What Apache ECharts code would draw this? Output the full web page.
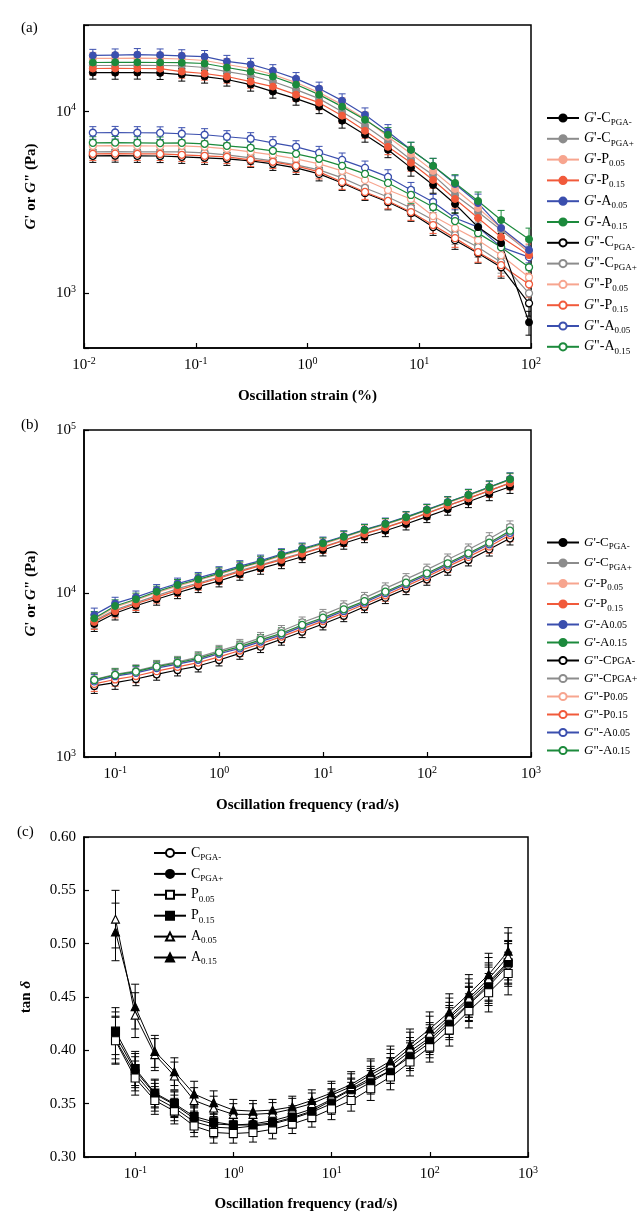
<!DOCTYPE html>
<html>
<head>
<meta charset="utf-8">
<script src="https://cdn.jsdelivr.net/npm/echarts@6/dist/echarts.min.js"></script>
<style>
  html, body { margin: 0; background: #fff; }
  #main { width: 639px; height: 1214px; }
</style>
</head>
<body>
<div id="main"></div>
<script>
// ---- (a) strain sweep, G' and G'' in Pa ----
const strainA = [0.012, 0.019, 0.030, 0.048, 0.075, 0.12, 0.19, 0.31, 0.49, 0.79, 1.27, 2.04, 3.27, 5.25, 8.43, 13.3, 20.9, 33.6, 54.0, 96.0];
const aGp_Cm  = [16420, 16400, 16420, 16350, 16010, 15610, 15030, 14100, 12900, 11800, 10660, 8920, 7464, 6167, 4906, 3950, 3103, 2315, 1889, 692];
const aGp_Cp  = [17950, 17950, 18000, 17950, 17900, 17500, 16630, 15810, 14650, 13230, 11800, 10000, 8368, 6826, 5432, 4486, 3479, 2802, 2229, 1684];
const aGp_P05 = [19630, 19630, 19700, 19630, 19500, 19130, 18180, 17280, 16010, 14460, 12730, 10930, 9149, 7277, 5862, 4721, 3755, 2948, 2286, 1684];
const aGp_P15 = [17280, 17300, 17280, 17250, 16630, 16220, 15610, 14650, 13740, 12410, 11210, 9504, 7852, 6406, 5229, 4209, 3307, 2597, 2039, 1622];
const aGp_A05 = [20400, 20500, 20600, 20500, 20300, 20100, 18900, 18200, 16800, 15200, 13400, 11500, 9620, 7750, 6170, 5030, 4000, 3140, 2290, 1730];
const aGp_A15 = [18650, 18700, 18700, 18650, 18600, 18410, 17500, 16630, 15610, 14100, 12410, 10660, 9034, 7464, 6167, 5033, 4052, 3224, 2531, 1987];
const aGpp_Cm  = [5715, 5730, 5715, 5700, 5643, 5572, 5501, 5363, 5163, 4906, 4544, 4052, 3568, 3183, 2767, 2315, 1962, 1663, 1392, 881];
const aGpp_Cp  = [6012, 6030, 6012, 6000, 6012, 5937, 5788, 5572, 5363, 5097, 4783, 4318, 3802, 3392, 2948, 2531, 2091, 1795, 1484, 1000];
const aGpp_P05 = [6488, 6500, 6488, 6470, 6488, 6406, 6246, 6012, 5788, 5501, 5163, 4721, 4209, 3707, 3307, 2663, 2286, 1962, 1622, 1226];
const aGpp_P15 = [5862, 5880, 5862, 5850, 5788, 5715, 5643, 5432, 5296, 5033, 4661, 4104, 3614, 3224, 2802, 2375, 2013, 1684, 1428, 1121];
const aGpp_A05 = [7656, 7680, 7656, 7640, 7559, 7464, 7277, 7094, 6740, 6406, 5937, 5432, 4906, 4374, 3707, 3183, 2597, 2315, 1795, 1581];
const aGpp_A15 = [6740, 6760, 6740, 6720, 6740, 6655, 6488, 6325, 6089, 5862, 5501, 5033, 4544, 4052, 3479, 2986, 2499, 2145, 1795, 1392];
const errA = [0.08, 0.08, 0.08, 0.08, 0.08, 0.08, 0.08, 0.08, 0.08, 0.08, 0.085, 0.09, 0.09, 0.095, 0.1, 0.1, 0.11, 0.12, 0.13, 0.15];

// ---- (b) frequency sweep, G' and G'' in Pa ----
const freqB = [0.0628, 0.0996, 0.158, 0.25, 0.397, 0.628, 0.996, 1.58, 2.5, 3.97, 6.28, 9.96, 15.8, 25, 39.7, 62.8, 99.6, 158, 250, 397, 628];
const bGp_Cm  = [6510, 7570, 8420, 9220, 10110, 11010, 11930, 13100, 14260, 15420, 16790, 18450, 20280, 22240, 24200, 26600, 29500, 32730, 36430, 40610, 44980];
const bGp_Cp  = [6800, 7950, 8800, 9700, 10700, 11600, 12600, 13800, 14950, 16300, 17700, 19300, 21200, 23300, 25400, 27900, 31000, 34500, 38200, 42600, 47500];
const bGp_P05 = [6950, 8250, 9100, 10100, 11100, 12050, 13100, 14300, 15500, 17000, 18400, 20050, 22000, 24200, 26350, 29000, 32200, 35800, 39700, 44300, 49500];
const bGp_P15 = [6700, 7800, 8650, 9500, 10450, 11400, 12400, 13600, 14800, 16050, 17500, 19150, 21100, 23150, 25300, 27800, 30900, 34400, 38200, 42600, 47300];
const bGp_A05 = [7400, 8700, 9500, 10500, 11500, 12450, 13500, 14700, 15900, 17400, 18850, 20500, 22400, 24600, 26800, 29400, 32600, 36300, 40200, 44800, 50200];
const bGp_A15 = [7050, 8390, 9220, 10260, 11270, 12210, 13290, 14460, 15650, 17200, 18630, 20280, 22240, 24450, 26600, 29240, 32430, 36130, 40020, 44630, 49920];
const bGpp_Cm  = [2720, 2850, 3000, 3205, 3405, 3600, 3920, 4305, 4730, 5250, 5840, 6510, 7310, 8300, 9430, 10700, 12210, 14060, 16030, 18630, 21760];
const bGpp_Cp  = [2980, 3200, 3360, 3610, 3820, 4080, 4460, 4850, 5350, 5900, 6650, 7400, 8350, 9400, 10750, 12250, 14000, 16150, 18600, 21600, 25500];
const bGpp_P05 = [2930, 3150, 3300, 3540, 3740, 3970, 4330, 4690, 5150, 5660, 6360, 7050, 7930, 8920, 10180, 11550, 13180, 15180, 17480, 20280, 24000];
const bGpp_P15 = [2800, 2980, 3130, 3350, 3560, 3780, 4100, 4480, 4930, 5450, 6080, 6780, 7600, 8600, 9750, 11100, 12650, 14600, 16750, 19400, 22800];
const bGpp_A05 = [2900, 3120, 3270, 3500, 3700, 3930, 4280, 4620, 5080, 5580, 6270, 6950, 7820, 8800, 10050, 11400, 13000, 15000, 17250, 20000, 23500];
const bGpp_A15 = [2960, 3175, 3325, 3570, 3770, 4010, 4370, 4730, 5200, 5710, 6420, 7110, 8000, 8990, 10260, 11640, 13290, 15300, 17620, 20460, 24210];
const errB = [0.1, 0.09, 0.09, 0.08, 0.08, 0.08, 0.08, 0.08, 0.08, 0.08, 0.08, 0.08, 0.08, 0.08, 0.08, 0.08, 0.08, 0.08, 0.08, 0.09, 0.09];

// ---- (c) tan delta ----
const freqC = [0.0628, 0.0996, 0.158, 0.25, 0.397, 0.628, 0.996, 1.58, 2.5, 3.97, 6.28, 9.96, 15.8, 25, 39.7, 62.8, 99.6, 158, 250, 397, 628];
const c_Cm  = [0.410, 0.378, 0.356, 0.346, 0.333, 0.328, 0.327, 0.329, 0.331, 0.336, 0.342, 0.350, 0.360, 0.370, 0.381, 0.394, 0.407, 0.425, 0.443, 0.460, 0.480];
const c_Cp  = [0.414, 0.381, 0.359, 0.349, 0.336, 0.331, 0.330, 0.331, 0.334, 0.339, 0.345, 0.354, 0.364, 0.374, 0.385, 0.399, 0.412, 0.430, 0.447, 0.464, 0.483];
const c_P05 = [0.409, 0.374, 0.353, 0.343, 0.329, 0.323, 0.322, 0.323, 0.326, 0.331, 0.337, 0.345, 0.353, 0.364, 0.375, 0.389, 0.403, 0.419, 0.437, 0.454, 0.472];
const c_P15 = [0.418, 0.383, 0.360, 0.350, 0.338, 0.333, 0.330, 0.330, 0.332, 0.337, 0.343, 0.353, 0.363, 0.372, 0.381, 0.396, 0.410, 0.427, 0.444, 0.462, 0.482];
const c_A05 = [0.523, 0.433, 0.396, 0.376, 0.353, 0.346, 0.340, 0.340, 0.341, 0.345, 0.350, 0.358, 0.366, 0.377, 0.387, 0.402, 0.416, 0.432, 0.449, 0.467, 0.488];
const c_A15 = [0.511, 0.441, 0.399, 0.380, 0.359, 0.351, 0.344, 0.343, 0.344, 0.347, 0.353, 0.360, 0.368, 0.379, 0.390, 0.405, 0.420, 0.436, 0.453, 0.471, 0.493];
const errC  = [0.022, 0.016, 0.013, 0.012, 0.010, 0.010, 0.009, 0.009, 0.009, 0.009, 0.009, 0.010, 0.010, 0.011, 0.012, 0.013, 0.014, 0.015, 0.016, 0.018, 0.020];
const errCA = [0.027, 0.021, 0.015, 0.013, 0.012, 0.011, 0.010, 0.010, 0.010, 0.010, 0.010, 0.011, 0.012, 0.013, 0.014, 0.015, 0.016, 0.017, 0.018, 0.020, 0.022];

const serif = '"Liberation Serif", "Times New Roman", serif';
const keys = ['Cm', 'Cp', 'P05', 'P15', 'A05', 'A15'];
const colors = { Cm: '#000000', Cp: '#8c8c8c', P05: '#f7a58f', P15: '#f15a3b', A05: '#3b4fae', A15: '#1c8a3c' };
const letter = { Cm: 'C', Cp: 'C', P05: 'P', P15: 'P', A05: 'A', A15: 'A' };
const subTxt = { Cm: 'PGA-', Cp: 'PGA+', P05: '0.05', P15: '0.15', A05: '0.05', A15: '0.15' };

const gpA  = { Cm: aGp_Cm, Cp: aGp_Cp, P05: aGp_P05, P15: aGp_P15, A05: aGp_A05, A15: aGp_A15 };
const gppA = { Cm: aGpp_Cm, Cp: aGpp_Cp, P05: aGpp_P05, P15: aGpp_P15, A05: aGpp_A05, A15: aGpp_A15 };
const gpB  = { Cm: bGp_Cm, Cp: bGp_Cp, P05: bGp_P05, P15: bGp_P15, A05: bGp_A05, A15: bGp_A15 };
const gppB = { Cm: bGpp_Cm, Cp: bGpp_Cp, P05: bGpp_P05, P15: bGpp_P15, A05: bGpp_A05, A15: bGpp_A15 };
const tanC = { Cm: c_Cm, Cp: c_Cp, P05: c_P05, P15: c_P15, A05: c_A05, A15: c_A15 };
const symC = {
  Cm: ['circle', false], Cp: ['circle', true], P05: ['rect', false],
  P15: ['rect', true], A05: ['triangle', false], A15: ['triangle', true]
};

function errRender(color, cap) {
  return function (params, api) {
    const x = api.value(0);
    const lo = api.coord([x, api.value(1)]);
    const hi = api.coord([x, api.value(2)]);
    const st = { stroke: color, lineWidth: 1 };
    return {
      type: 'group',
      children: [
        { type: 'line', shape: { x1: lo[0], y1: lo[1], x2: hi[0], y2: hi[1] }, style: st },
        { type: 'line', shape: { x1: lo[0] - cap, y1: lo[1], x2: lo[0] + cap, y2: lo[1] }, style: st },
        { type: 'line', shape: { x1: hi[0] - cap, y1: hi[1], x2: hi[0] + cap, y2: hi[1] }, style: st }
      ]
    };
  };
}

function gSeries(gi, xs, ys, kind, k, err) {
  const c = colors[k];
  const open = kind === 'Gpp';
  return [
    {
      type: 'custom', xAxisIndex: gi, yAxisIndex: gi, z: 1, silent: true, clip: true,
      encode: { x: 0, y: [1, 2] },
      data: xs.map((x, i) => [x, ys[i] * (1 - err[i]), ys[i] * (1 + err[i])]),
      renderItem: errRender(c, 3.5)
    },
    {
      type: 'line', name: kind + '-' + k, xAxisIndex: gi, yAxisIndex: gi, z: 3,
      data: xs.map((x, i) => [x, ys[i]]),
      symbol: 'circle', symbolSize: 7, showAllSymbol: true,
      lineStyle: { color: c, width: 1.2 },
      itemStyle: open ? { color: '#fff', borderColor: c, borderWidth: 1.3 } : { color: c, borderColor: c, borderWidth: 1 }
    }
  ];
}

function cSeries(k) {
  const ys = tanC[k];
  const err = (k === 'A05' || k === 'A15') ? errCA : errC;
  const filled = symC[k][1];
  return [
    {
      type: 'custom', xAxisIndex: 2, yAxisIndex: 2, z: 1, silent: true, clip: true,
      encode: { x: 0, y: [1, 2] },
      data: freqC.map((x, i) => [x, ys[i] - err[i], ys[i] + err[i]]),
      renderItem: errRender('#000', 4)
    },
    {
      type: 'line', name: k, xAxisIndex: 2, yAxisIndex: 2, z: 3,
      data: freqC.map((x, i) => [x, ys[i]]),
      symbol: symC[k][0], symbolSize: 8, showAllSymbol: true,
      lineStyle: { color: '#000', width: 1 },
      itemStyle: { color: filled ? '#000' : '#fff', borderColor: '#000', borderWidth: 1.1 }
    }
  ];
}

function powLabel(v) {
  const l = Math.log10(v);
  const e = Math.round(l);
  if (Math.abs(l - e) > 1e-6) return '';
  return '10{sup|' + (e < 0 ? '-' + (-e) : e) + '}';
}

function axisBase(gi, extra) {
  return Object.assign({
    gridIndex: gi,
    axisLine: { show: true, onZero: false, lineStyle: { color: '#000', width: 1.5 } },
    axisTick: { show: true, inside: true, length: 5, lineStyle: { color: '#000', width: 1.2 } },
    splitLine: { show: false },
    nameLocation: 'middle',
    nameTextStyle: {
      color: '#000', fontFamily: serif, fontSize: 15, fontWeight: 'bold',
      rich: { i: { fontFamily: serif, fontSize: 15, fontWeight: 'bold', fontStyle: 'italic', color: '#000' } }
    },
    axisLabel: {
      color: '#000', fontFamily: serif, fontSize: 15, margin: 8, formatter: powLabel,
      rich: { sup: { fontFamily: serif, fontSize: 10, color: '#000', padding: [0, 0, 8, 0] } }
    }
  }, extra);
}

function legendText(size) {
  return {
    color: '#000', fontFamily: serif, fontSize: size,
    rich: {
      i: { fontFamily: serif, fontSize: size, fontStyle: 'italic', color: '#000' },
      s: { fontFamily: serif, fontSize: 9, color: '#000', padding: [9, 0, 0, 0] },
      t: { fontFamily: serif, fontSize: 10, color: '#000', padding: [2, 0, 0, 0] }
    }
  };
}
function gLegendFmt(name) {
  const p = name.split('-');
  return '{i|G}' + (p[0] === 'Gp' ? "'" : '"') + '-' + letter[p[1]] + '{s|' + subTxt[p[1]] + '}';
}
// panel (b) legend: only the G'-P entries have a lowered subscript
function gLegendFmtB(name) {
  const p = name.split('-');
  const low = p[0] === 'Gp' && letter[p[1]] !== 'A';
  return '{i|G}' + (p[0] === 'Gp' ? "'" : '"') + '-' + letter[p[1]] + (low ? '{s|' : '{t|') + subTxt[p[1]] + '}';
}
const gNames = keys.map(k => 'Gp-' + k).concat(keys.map(k => 'Gpp-' + k));

let series = [];
keys.forEach(k => { series = series.concat(gSeries(0, strainA, gppA[k], 'Gpp', k, errA)); });
keys.forEach(k => { series = series.concat(gSeries(0, strainA, gpA[k], 'Gp', k, errA)); });
keys.forEach(k => { series = series.concat(gSeries(1, freqB, gppB[k], 'Gpp', k, errB)); });
keys.forEach(k => { series = series.concat(gSeries(1, freqB, gpB[k], 'Gp', k, errB)); });
keys.forEach(k => { series = series.concat(cSeries(k)); });

const gridStyle = { show: true, borderColor: '#000', borderWidth: 1.5, containLabel: false, outerBoundsMode: 'none' };

const option = {
  animation: false,
  backgroundColor: '#fff',
  title: [
    { text: '(a)', left: 16, top: 16, textStyle: { fontFamily: serif, fontSize: 15, fontWeight: 'normal', color: '#000' } },
    { text: '(b)', left: 16, top: 413, textStyle: { fontFamily: serif, fontSize: 15, fontWeight: 'normal', color: '#000' } },
    { text: '(c)', left: 12, top: 820, textStyle: { fontFamily: serif, fontSize: 15, fontWeight: 'normal', color: '#000' } }
  ],
  grid: [
    Object.assign({ left: 84, top: 25, width: 447, height: 323 }, gridStyle),
    Object.assign({ left: 84, top: 430, width: 447, height: 327 }, gridStyle),
    Object.assign({ left: 84, top: 837, width: 444, height: 320 }, gridStyle)
  ],
  xAxis: [
    axisBase(0, { type: 'log', logBase: 10, min: 0.01, max: 100, name: 'Oscillation strain (%)', nameGap: 41 }),
    axisBase(1, { type: 'log', logBase: 10, min: 0.05, max: 1000, name: 'Oscillation frequency (rad/s)', nameGap: 41 }),
    axisBase(2, { type: 'log', logBase: 10, min: 0.03, max: 1000, name: 'Oscillation frequency (rad/s)', nameGap: 40 })
  ],
  yAxis: [
    axisBase(0, { type: 'log', logBase: 10, min: 500, max: 30000, name: "{i|G}' or {i|G}\" (Pa)", nameGap: 45 }),
    axisBase(1, { type: 'log', logBase: 10, min: 1000, max: 100000, name: "{i|G}' or {i|G}\" (Pa)", nameGap: 45 }),
    axisBase(2, {
      type: 'value', min: 0.30, max: 0.60, interval: 0.05, name: 'tan {i|δ}', nameGap: 50,
      axisLabel: { color: '#000', fontFamily: serif, fontSize: 15, margin: 8, formatter: v => v.toFixed(2) }
    })
  ],
  legend: [
    {
      data: gNames, orient: 'vertical', left: 546, top: 111, itemWidth: 32, itemHeight: 9, itemGap: 4.8,
      padding: 0, formatter: gLegendFmt, textStyle: legendText(14), selectedMode: false
    },
    {
      data: gNames, orient: 'vertical', left: 546, top: 536, itemWidth: 32, itemHeight: 9, itemGap: 5,
      padding: 0, formatter: gLegendFmtB, textStyle: legendText(13), selectedMode: false
    },
    {
      data: keys, orient: 'vertical', left: 153, top: 846, itemWidth: 32, itemHeight: 10, itemGap: 4.9,
      padding: 0, selectedMode: false, textStyle: legendText(14),
      formatter: k => letter[k] + '{s|' + subTxt[k] + '}'
    }
  ],
  series: series
};

const chart = echarts.init(document.getElementById('main'));
chart.setOption(option);
</script>
</body>
</html>
